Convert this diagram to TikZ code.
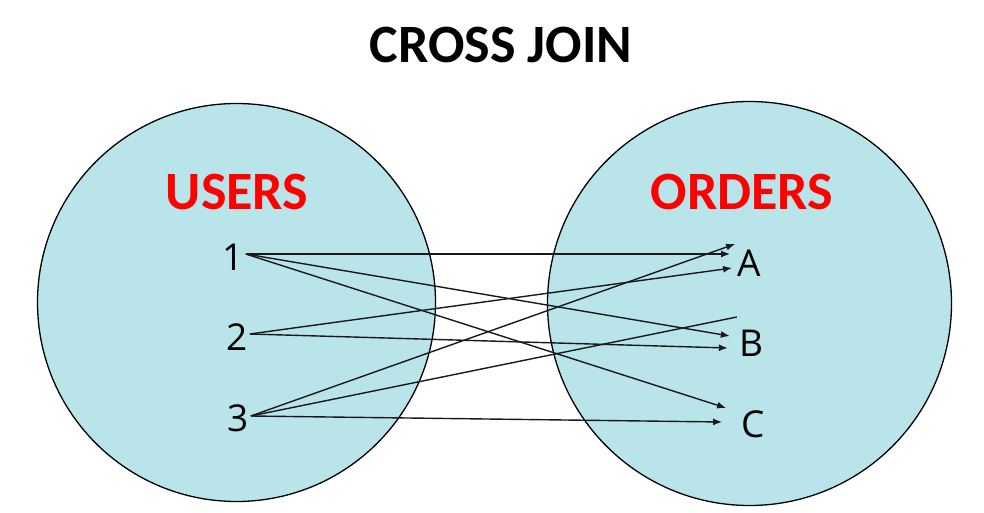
\documentclass[tikz,border=0pt]{standalone}
\usepackage{fontspec}
\setmainfont{Carlito}
\newfontfamily\itemfont{Open Sans}
\usetikzlibrary{arrows.meta}
\definecolor{setblue}{RGB}{185,229,234}
\definecolor{setred}{RGB}{255,0,0}

\begin{document}
\begin{tikzpicture}[x=1pt, y=-1pt, >={Latex[length=9pt,width=7pt]},
    set/.style={draw=black, line width=1.3pt, fill=setblue},
    head/.style={font=\fontsize{54}{60}\selectfont\bfseries},
    item/.style={font=\itemfont\fontsize{37}{40}\selectfont, inner sep=2pt},
    link/.style={line width=1.4pt, draw=black!90}]
         \useasboundingbox (0,0) rectangle (984,513);
         \draw [set] (236.5,302.5) circle [radius=199pt];
         \draw [set] (749.5,303.5) circle [radius=202pt];
         \node [head] (T) at (501,45) {CROSS JOIN};
         \node [head, text=setred] (US) at (237,192) {USERS};
         \node [head, text=setred] (OR) at (742,192) {ORDERS};
         \node [item] (U1) at (233,257) {1};
         \node [item] (U2) at (237,337) {2};
         \node [item] (U3) at (238,418) {3};
         \node [item] (OA) at (749,263) {A};
         \node [item] (OB) at (751,343) {B};
         \node [item] (OC) at (753,424) {C};
         \draw [link, ->] ([yshift=3pt]U1.east) -- ([shift={(-5pt,9pt)}]OA.west);
         \draw [link, ->] ([yshift=3pt]U1.east) -- ([shift={(-7pt,7pt)}]OB.west);
         \draw [link, ->] ([yshift=3pt]U1.east) -- ([shift={(-13pt,16pt)}]OC.west);
         \draw [link, ->] ([yshift=3pt]U2.east) -- ([shift={(-3pt,-5pt)}]OA.west);
         \draw [link, ->] ([yshift=3pt]U2.east) -- ([shift={(-9pt,-5pt)}]OB.west);
         \draw [link, ->] ([yshift=2pt]U3.east) -- ([shift={(0pt,19pt)}]OA.west);
         \draw [link] ([yshift=2pt]U3.east) -- ([shift={(0pt,26pt)}]OB.west);
         \draw [link, ->] ([yshift=2pt]U3.east) -- ([shift={(-17pt,2pt)}]OC.west);
\end{tikzpicture}
\end{document}
